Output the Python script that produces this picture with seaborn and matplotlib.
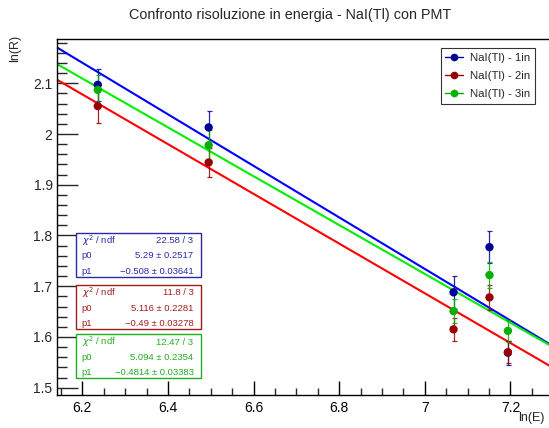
import matplotlib
matplotlib.use("Agg")
import matplotlib.pyplot as plt
from matplotlib.ticker import MultipleLocator, FuncFormatter
import numpy as np
import pandas as pd
import seaborn as sns

# ln(E) of the gamma lines: 511, 662, 1173, 1275, 1332 keV
ln_e = [6.236, 6.495, 7.067, 7.151, 7.194]

labels = ["NaI(Tl) - 1in", "NaI(Tl) - 2in", "NaI(Tl) - 3in"]

ln_r_1in = [2.097, 2.013, 1.688, 1.777, 1.569]
err_1in = [0.031, 0.032, 0.032, 0.031, 0.024]
ln_r_2in = [2.055, 1.944, 1.615, 1.678, 1.570]
err_2in = [0.034, 0.029, 0.022, 0.024, 0.022]
ln_r_3in = [2.087, 1.978, 1.651, 1.722, 1.612]
err_3in = [0.030, 0.030, 0.024, 0.026, 0.022]

# linear fit results: chi2/ndf, p0 (+- err), p1 (+- err)
chi2_txt = ["22.58 / 3", "11.8 / 3", "12.47 / 3"]
p0_vals = [5.29, 5.116, 5.094]
p0_errs = ["0.2517", "0.2281", "0.2354"]
p1_vals = [-0.508, -0.49, -0.4814]
p1_errs = ["0.03641", "0.03278", "0.03383"]

x_range = [6.14, 7.29]
y_range = [1.4856, 2.1867]

marker_colors = ["#000099", "#990000", "#00b000"]
line_colors = ["#0000ff", "#ff0000", "#00ee00"]
box_colors = ["#2a2aa8", "#a01c1c", "#1fae1f"]

sns.set_theme(style="white")
plt.rcParams["font.family"] = ["Liberation Sans", "DejaVu Sans"]

W, H = 549, 428
fig = plt.figure(figsize=(W / 100, H / 100), dpi=100)
ax = fig.add_axes([56.7 / W, 33 / H, 1 - 56.7 / W + 0.01, (395 - 39.3) / H])

series = [(ln_r_1in, err_1in), (ln_r_2in, err_2in), (ln_r_3in, err_3in)]

rows = []
for lab, (vals, errs) in zip(labels, series):
    for x, y, e in zip(ln_e, vals, errs):
        rows.append({"lnE": x, "lnR": y, "err": e, "det": lab})
df = pd.DataFrame(rows)

xs = np.linspace(x_range[0], x_range[1] + 0.05, 50)
fit_rows = []
for lab, p0, p1 in zip(labels, p0_vals, p1_vals):
    for x in xs:
        fit_rows.append({"lnE": x, "lnR": p0 + p1 * x, "det": lab})
fit_df = pd.DataFrame(fit_rows)

sns.lineplot(data=fit_df, x="lnE", y="lnR", hue="det", palette=line_colors,
             hue_order=labels, lw=1.5, legend=False, ax=ax, zorder=2)

for lab, mc in zip(labels, marker_colors):
    sub = df[df["det"] == lab]
    ax.errorbar(sub["lnE"], sub["lnR"], yerr=sub["err"], fmt="none",
                ecolor=mc, elinewidth=0.9, capsize=1.8, capthick=0.9,
                alpha=0.85, zorder=3)
    sns.scatterplot(data=sub, x="lnE", y="lnR", color=mc, s=36,
                    edgecolor="none", ax=ax, zorder=4)

ax.set_xlim(x_range[0], x_range[1] + (x_range[1] - x_range[0]) * 0.01 / (1 - 56.7 / W))
ax.set_ylim(*y_range)
ax.set_xlabel("")
ax.set_ylabel("")

ax.xaxis.set_major_locator(MultipleLocator(0.2))
ax.xaxis.set_minor_locator(MultipleLocator(0.05))
ax.yaxis.set_major_locator(MultipleLocator(0.1))
ax.yaxis.set_minor_locator(MultipleLocator(0.02))
ax.xaxis.set_major_formatter(FuncFormatter(lambda v, p: f"{v:g}"))
ax.yaxis.set_major_formatter(FuncFormatter(lambda v, p: f"{v:g}"))
ax.tick_params(axis="x", which="major", direction="in", length=10, width=1,
               labelsize=10, pad=4, colors="black", bottom=True, top=False)
ax.tick_params(axis="x", which="minor", direction="in", length=5, width=1,
               bottom=True, top=False)
ax.tick_params(axis="y", which="major", direction="in", length=15, width=1,
               labelsize=10, pad=3, left=True, right=False)
ax.tick_params(axis="y", which="minor", direction="in", length=7.5, width=1,
               left=True, right=False)
for sp in ax.spines.values():
    sp.set_color("black")
    sp.set_linewidth(1.0)
ax.spines["right"].set_visible(False)

fig.text(290 / W, 1 - 15 / H, "Confronto risoluzione in energia - NaI(Tl) con PMT",
         ha="center", va="center", fontsize=10.4)
fig.text(531 / W, 1 - 418 / H, "ln(E)", ha="center", va="center", fontsize=9)
fig.text(15 / W, 1 - 48 / H, "ln(R)", ha="center", va="center",
         rotation=90, fontsize=9)

# legend
handles = [plt.Line2D([], [], color=mc, marker="o", ms=4.5, lw=1.0)
           for mc in marker_colors]
leg = ax.legend(handles, labels, loc="upper right", fontsize=8.2,
                frameon=True, fancybox=False, handlelength=1.6,
                handletextpad=0.6, borderpad=0.4, labelspacing=0.72,
                borderaxespad=0)
leg.set_bbox_to_anchor((535 / W, 1 - 48.3 / H), transform=fig.transFigure)
leg.get_frame().set_edgecolor("black")
leg.get_frame().set_linewidth(0.8)

# fit statistics boxes
box_tops = [232.7, 285, 334.3]
box_h = 44
box_left, box_right = 75.5, 200.5
for top, col, chi, p0, p0e, p1, p1e in zip(box_tops, box_colors, chi2_txt,
                                           p0_vals, p0_errs, p1_vals, p1_errs):
    rect = plt.Rectangle((box_left / W, 1 - (top + box_h) / H),
                         (box_right - box_left) / W, box_h / H,
                         transform=fig.transFigure, fill=True, facecolor="white",
                         edgecolor=col, lw=1.0, zorder=5)
    fig.patches.append(rect)
    entries = [(r"$\chi^2$ / ndf", chi),
               ("p0", f"{p0:g} \u00b1 {p0e}"),
               ("p1", f"\u2212{abs(p1):g} \u00b1 {p1e}")]
    for i, (k, v) in enumerate(entries):
        yy = 1 - (top + 7.8 + i * 15.3) / H
        fig.text((box_left + 6) / W, yy, k, ha="left", va="center",
                 fontsize=6.8, color=col, zorder=6)
        fig.text((box_right - 7) / W, yy, v, ha="right", va="center",
                 fontsize=6.8, color=col, zorder=6)

fig.savefig("out.png", dpi=100)
